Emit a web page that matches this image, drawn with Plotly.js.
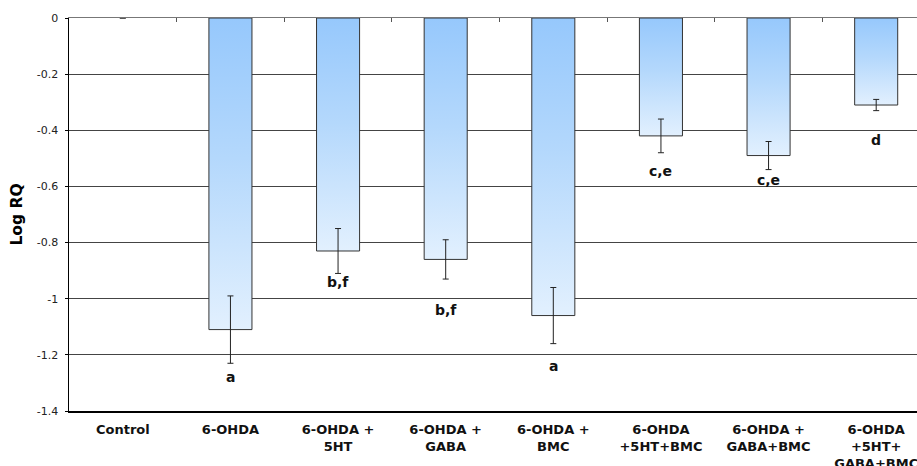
<!DOCTYPE html>
<html>
<head>
<meta charset="utf-8">
<script src="https://cdn.plot.ly/plotly-3.0.1.min.js"></script>
<style>
html,body{margin:0;padding:0;overflow:hidden;background:#fff;}
#chart{width:932px;height:466px;}
</style>
</head>
<body>
<div id="chart"></div>
<script>
var categories = ["Control", "6-OHDA", "6-OHDA +<br>5HT", "6-OHDA +<br>GABA", "6-OHDA +<br>BMC",
  "6-OHDA<br>+5HT+BMC", "6-OHDA +<br>GABA+BMC", "6-OHDA<br>+5HT+<br>GABA+BMC"];
var logRQ = [0, -1.11, -0.83, -0.86, -1.06, -0.42, -0.49, -0.31];
var errors = [null, 0.12, 0.08, 0.07, 0.10, 0.06, 0.05, 0.02];
var letters = ["", "a", "b,f", "b,f", "a", "c,e", "c,e", "d"];
var letterY = [null, -1.28, -0.94, -1.04, -1.24, -0.545, -0.577, -0.435];
var yTicks = [0, -0.2, -0.4, -0.6, -0.8, -1, -1.2, -1.4];

var FONT = 'DejaVu Sans, Liberation Sans, Arial, sans-serif';

var bars = {
  type: 'bar', x: categories, y: logRQ,
  marker: {color: '#bcdcfb', line: {color: '#333', width: logRQ.map(function(v) { return v === 0 ? 0 : 1; })}},
  error_y: {type: 'data', array: errors, visible: true, color: '#222', thickness: 1, width: 3, symmetric: true},
  hoverinfo: 'x+y', showlegend: false
};
var dummy = {type: 'scatter', mode: 'markers', x: categories, y: logRQ, xaxis: 'x2',
  marker: {opacity: 0}, hoverinfo: 'skip', showlegend: false};

var annotations = [];
for (var i = 0; i < categories.length; i++) {
  if (!letters[i]) continue;
  annotations.push({x: categories[i], y: letterY[i], xref: 'x', yref: 'y', text: '<b>' + letters[i] + '</b>',
    showarrow: false, font: {family: FONT, size: 14, color: '#111'}});
}

var layout = {
  width: 932, height: 466,
  margin: {l: 69, r: 2, t: 18, b: 55},
  paper_bgcolor: '#fff', plot_bgcolor: '#fff',
  font: {family: FONT, color: '#222'},
  bargap: 0.6,
  xaxis: {type: 'category', showline: true, linecolor: '#000', linewidth: 1.5, ticks: '', showgrid: false,
    tickfont: {family: FONT, size: 13, color: '#111', weight: 'bold'}, ticklabelstandoff: 6,
    range: [-0.5, 7.5], fixedrange: true},
  xaxis2: {type: 'category', overlaying: 'x', side: 'top', anchor: 'y', showline: true, linecolor: '#777', linewidth: 1,
    ticks: 'inside', tickson: 'boundaries', ticklen: 4, tickcolor: '#555', showticklabels: false, showgrid: false,
    range: [-0.5, 7.5], fixedrange: true},
  yaxis: {range: [-1.4, 0], tickvals: yTicks, ticktext: yTicks.map(String), showline: true, linecolor: '#000', linewidth: 1.5,
    ticks: 'outside', ticklen: 3, tickcolor: '#000', showgrid: true, gridcolor: '#444', gridwidth: 1, zeroline: false,
    tickfont: {family: FONT, size: 11, color: '#222'}, ticklabelstandoff: 4,
    title: {text: '<b>Log RQ</b>', font: {family: FONT, size: 15.5, color: '#000'}, standoff: 10}, fixedrange: true},
  annotations: annotations
};

Plotly.newPlot('chart', [bars, dummy], layout, {displayModeBar: false, staticPlot: true}).then(function(gd) {
  var svg = gd.querySelector('svg.main-svg');
  var ns = 'http://www.w3.org/2000/svg';
  var defs = svg.querySelector('defs') || svg.insertBefore(document.createElementNS(ns, 'defs'), svg.firstChild);
  var grad = document.createElementNS(ns, 'linearGradient');
  grad.setAttribute('id', 'barGrad');
  grad.setAttribute('x1', '0'); grad.setAttribute('y1', '0'); grad.setAttribute('x2', '0'); grad.setAttribute('y2', '1');
  [['0', '#96c8fc'], ['0.45', '#b4d8fc'], ['1', '#e2f0fe']].forEach(function(s) {
    var st = document.createElementNS(ns, 'stop');
    st.setAttribute('offset', s[0]); st.setAttribute('stop-color', s[1]);
    grad.appendChild(st);
  });
  defs.appendChild(grad);
  gd.querySelectorAll('.barlayer .point path').forEach(function(p) { p.style.fill = 'url(#barGrad)'; });
});
</script>
</body>
</html>
